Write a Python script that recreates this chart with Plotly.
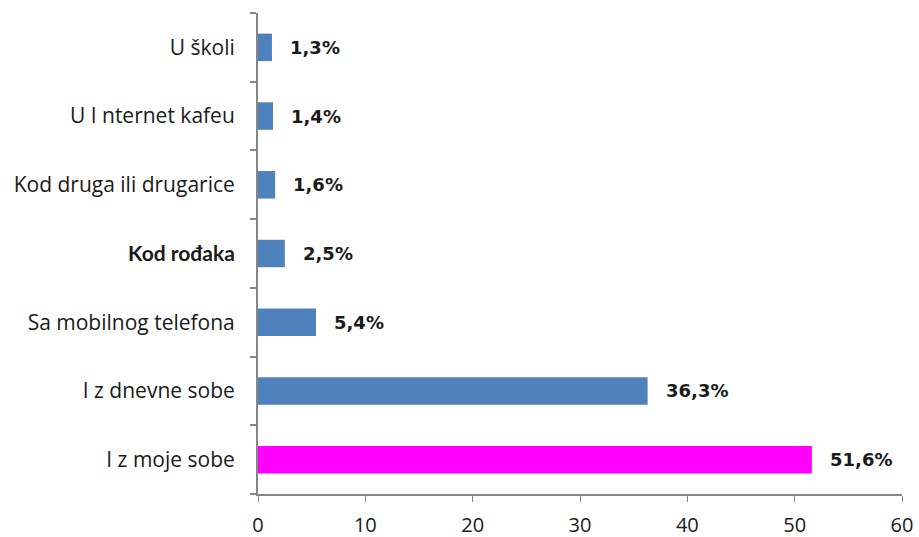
import plotly.graph_objects as go

categories = ["I z moje sobe", "I z dnevne sobe", "Sa mobilnog telefona", "Kod rođaka",
              "Kod druga ili drugarice", "U I nternet kafeu", "U školi"]
values = [51.6, 36.3, 5.4, 2.5, 1.6, 1.4, 1.3]
labels = ["51,6%", "36,3%", "5,4%", "2,5%", "1,6%", "1,4%", "1,3%"]
colors = ["#FF00FF"] + ["#4F81BD"] * 6
x_ticks = [0, 10, 20, 30, 40, 50, 60]

ticktext = [c if c != "Kod rođaka" else '<span style="font-family:Lato;font-weight:bold">Kod rođaka</span>' for c in categories]

fig = go.Figure()
fig.add_trace(go.Bar(
    y=categories, x=values, orientation="h",
    marker=dict(color=colors, line=dict(width=0)),
    width=0.4,
))
for c, v, t in zip(categories, values, labels):
    fig.add_annotation(x=v, y=c, text="<b>" + t + "</b>", showarrow=False,
                       xanchor="left", xshift=16,
                       font=dict(family="DejaVu Sans", size=18, color="#1a1a1a"))

fig.update_layout(
    width=919, height=537,
    margin=dict(l=258, r=17, t=13, b=43, autoexpand=False),
    plot_bgcolor="white", paper_bgcolor="white",
    showlegend=False,
    font=dict(family="Open Sans", size=21, color="#1a1a1a"),
)
fig.update_xaxes(range=[0, 60], tickvals=x_ticks, showgrid=False, zeroline=False,
                 showline=True, linecolor="#868686", linewidth=2, automargin=False,
                 ticks="outside", ticklen=6, tickcolor="#868686", tickwidth=1,
                 tickfont=dict(size=20), ticklabelstandoff=6)
fig.update_yaxes(categoryorder="array", categoryarray=categories,
                 tickvals=categories, ticktext=ticktext, automargin=False,
                 showgrid=False, showline=True, linecolor="#868686", linewidth=2,
                 ticks="outside", ticklen=6, tickcolor="#868686", tickwidth=2,
                 tickson="boundaries", range=[-0.5, 6.5], ticklabelstandoff=17)
fig.write_html("out.html", config={"displayModeBar": False},
               post_script="document.body.style.margin='0';document.body.style.overflow='hidden';")
